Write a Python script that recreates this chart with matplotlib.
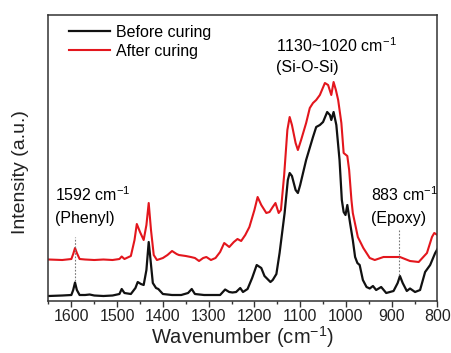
import matplotlib
matplotlib.use("Agg")
import matplotlib.pyplot as plt
from matplotlib.ticker import MultipleLocator

plt.rcParams['font.family'] = ['Liberation Sans', 'DejaVu Sans']
plt.rcParams['mathtext.default'] = 'regular'

# wavenumber (cm-1) and intensity (a.u.)
wn_before = [1650, 1620, 1600, 1596, 1592, 1588, 1582, 1570, 1560, 1550, 1530, 1510,
             1495, 1490, 1484, 1470, 1460, 1455, 1448, 1442, 1436, 1431, 1427, 1422,
             1415, 1410, 1400, 1380, 1360, 1345, 1337, 1330, 1310, 1290, 1275, 1264,
             1255, 1248, 1240, 1231, 1225, 1215, 1205, 1195, 1185, 1178, 1165, 1160,
             1152, 1145, 1134, 1127, 1123, 1118, 1110, 1105, 1100, 1087, 1072, 1065,
             1057, 1050, 1041, 1035, 1032, 1027, 1021, 1014, 1009, 1005, 1001, 997,
             991, 985, 980, 975, 970, 963, 955, 948, 941, 934, 923, 912, 896, 887,
             882, 876, 867, 860, 849, 838, 827, 816, 805, 800]
int_before = [5, 5.5, 6, 11, 18.5, 11, 6, 6, 6.5, 5.5, 5, 5.5,
              7, 12, 8, 7, 13, 19, 17, 16, 31, 59, 41, 18,
              13, 12, 7, 6, 6, 8, 12, 7, 6, 6, 6, 11.5,
              9, 8.5, 9, 13, 9, 12, 23, 36, 33, 25, 19, 21,
              27, 48, 88, 121, 128, 125, 111, 108, 116, 141, 164, 174,
              176, 179, 189, 186, 181, 189, 176, 141, 101, 89, 86, 96,
              78, 61, 44, 38, 36, 21, 14, 12.5, 15, 11, 14, 8, 10, 18,
              25, 18, 10, 12.5, 9, 11, 29, 36, 48, 52]

wn_after = [1650, 1620, 1600, 1596, 1592, 1588, 1582, 1570, 1550, 1530, 1510, 1495,
            1490, 1484, 1470, 1462, 1457, 1450, 1442, 1436, 1431, 1426, 1420, 1413,
            1400, 1390, 1380, 1370, 1365, 1350, 1339, 1330, 1321, 1312, 1305, 1295,
            1285, 1275, 1266, 1255, 1245, 1237, 1229, 1220, 1211, 1200, 1193, 1185,
            1174, 1167, 1160, 1154, 1147, 1142, 1135, 1128, 1123, 1118, 1110, 1105,
            1098, 1087, 1079, 1072, 1065, 1057, 1046, 1039, 1032, 1027, 1022, 1017,
            1010, 1005, 997, 993, 988, 985, 974, 962, 955, 948, 937, 918, 896, 882,
            860, 841, 823, 812, 807, 800]
int_after = [41.5, 41, 42, 47, 53, 48, 42, 41.5, 41, 41.5, 41, 42,
             44.5, 42, 45, 61, 77, 69, 61, 76, 98, 71, 46, 41,
             43, 46, 50, 47, 46, 45, 44, 43, 40, 43, 44, 41,
             43, 49, 58, 54, 59, 62, 60, 66, 74, 91, 104, 96,
             88, 89, 94, 98, 88, 91, 126, 171, 184, 176, 158, 151,
             161, 178, 193, 198, 201, 206, 218, 216, 206, 219, 211, 201,
             178, 148, 145, 131, 101, 88, 64, 53, 48, 43, 41, 44, 44, 44,
             40, 39, 48, 64, 68, 66]

xticks = [1600, 1500, 1400, 1300, 1200, 1100, 1000, 900, 800]

fig = plt.figure(figsize=(4.51, 3.53), dpi=100)
ax = fig.add_axes([0.1075, 0.1473, 0.8625, 0.8102])

ax.plot(wn_before, int_before, color='#111111', lw=1.6, label='Before curing')
ax.plot(wn_after, int_after, color='#e3161d', lw=1.5, label='After curing')

# marker lines for the two bands
ax.plot([1592, 1592], [20, 64], color='#777777', lw=0.8, ls=(0, (1.5, 1.5)))
ax.plot([883, 883], [26, 72], color='#777777', lw=0.8, ls=(0, (1.5, 1.5)))

ax.text(1636, 100, '1592 cm$^{-1}$', fontsize=11.5)
ax.text(1636, 78, '(Phenyl)', fontsize=11.5)
ax.text(945, 100, '883 cm$^{-1}$', fontsize=11.5)
ax.text(945, 78, '(Epoxy)', fontsize=11.5)
ax.text(1153, 249, '1130~1020 cm$^{-1}$', fontsize=11.5)
ax.text(1153, 229, '(Si-O-Si)', fontsize=11.5)

ax.set_xlim(1650, 800)
ax.set_ylim(0, 286)
ax.set_xticks(xticks)
ax.xaxis.set_minor_locator(MultipleLocator(50))
ax.set_yticks([])
ax.tick_params(axis='x', which='major', direction='out', length=4.5, width=1,
               labelsize=11.5, pad=1.5, colors='#333333', labelcolor='#222222')
ax.tick_params(axis='x', which='minor', direction='out', length=2.5, width=1,
               colors='#333333')
for s in ax.spines.values():
    s.set_linewidth(1.1)
    s.set_color('#333333')

ax.set_xlabel('Wavenumber (cm$^{-1}$)', fontsize=14.5, color='#222222', labelpad=0)
ax.set_ylabel('Intensity (a.u.)', fontsize=14, color='#222222')
ax.yaxis.set_label_coords(-0.05, 0.45)

ax.legend(loc='upper left', bbox_to_anchor=(0.052, 0.965), frameon=False,
          borderpad=0, borderaxespad=0, handlelength=2.6, handletextpad=0.35,
          labelspacing=0.25, fontsize=11.5)

fig.savefig('out.png', dpi=100)
